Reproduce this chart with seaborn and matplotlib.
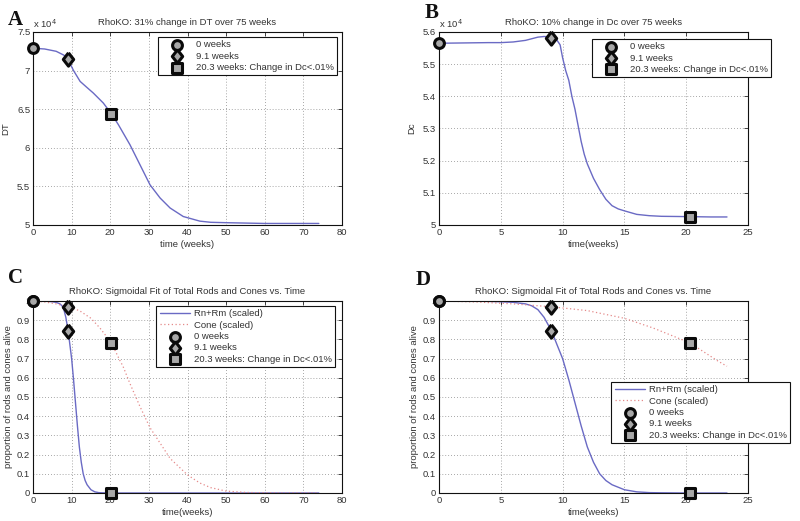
import numpy as np
import pandas as pd
import matplotlib
matplotlib.use("Agg")
import matplotlib.pyplot as plt
import seaborn as sns

# ---------------- data ----------------
# Panel A: DT (x 10^4) vs time (weeks)
t_dt = [0, 3, 6, 8, 9.1, 10.5, 12.2, 14, 15.6, 18.2, 20.3, 22.1, 25.1, 27.7, 30.3,
        32.9, 35.5, 38.9, 43.2, 46, 50, 55, 60, 65, 70, 74]
dt_e4 = [7.29, 7.28, 7.25, 7.2, 7.14, 7.0, 6.86, 6.78, 6.71, 6.58, 6.44, 6.30, 6.04,
         5.78, 5.52, 5.35, 5.22, 5.11, 5.05, 5.035, 5.03, 5.025, 5.02, 5.02, 5.02, 5.02]
dt_marker_t = [0, 9.1, 20.3]
dt_marker_v = [7.29, 7.145, 6.44]

# Panel B: Dc (x 10^4) vs time (weeks)
t_dc = [0, 2, 4, 5, 6, 7, 7.5, 8, 8.5, 9.1, 9.5, 9.8, 10, 10.25, 10.5, 10.75, 11,
        11.25, 11.5, 11.75, 12, 12.5, 13, 13.5, 14, 14.5, 15, 16, 17, 18, 20.3, 22, 23.3]
dc_e4 = [5.565, 5.566, 5.567, 5.567, 5.569, 5.574, 5.579, 5.584, 5.586, 5.585, 5.577,
         5.56, 5.52, 5.48, 5.45, 5.40, 5.36, 5.31, 5.26, 5.22, 5.19, 5.145, 5.11, 5.08,
         5.06, 5.05, 5.044, 5.033, 5.029, 5.027, 5.026, 5.025, 5.025]
dc_marker_t = [0, 9.1, 20.3]
dc_marker_v = [5.565, 5.582, 5.026]

# Panels C/D: scaled rods and cones
t_rod = [0, 2, 4, 5, 6, 7, 7.5, 8, 8.5, 9.1, 9.5, 10, 10.5, 11, 11.5, 12, 12.5, 13,
         13.5, 14, 15, 16, 17, 18, 20, 23.3, 30, 40, 50, 60, 74]
rod = [1.0, 1.0, 0.998, 0.996, 0.993, 0.985, 0.975, 0.955, 0.915, 0.845, 0.78, 0.70,
       0.59, 0.47, 0.35, 0.24, 0.16, 0.10, 0.065, 0.043, 0.017, 0.006, 0.002, 0.001,
       0, 0, 0, 0, 0, 0, 0]
t_cone = [0, 3, 6, 9.1, 12, 15, 17.3, 20.3, 22.5, 23.3, 25.1, 27.7, 30.3, 32.9, 35.5,
          40, 43.2, 46, 50, 55, 60, 65, 70, 74]
cone = [1.0, 0.995, 0.985, 0.97, 0.95, 0.91, 0.86, 0.782, 0.69, 0.66, 0.57, 0.45, 0.34,
        0.26, 0.18, 0.094, 0.052, 0.028, 0.01, 0.003, 0.001, 0, 0, 0]
prop_marker_t = {"0 weeks": [0, 0], "9.1 weeks": [9.1, 9.1], "20.3 weeks": [20.3, 20.3]}
prop_marker_v = {"0 weeks": [1.0, 1.0], "9.1 weeks": [0.97, 0.845], "20.3 weeks": [0.782, 0.0]}

marker_labels = ["0 weeks", "9.1 weeks", "20.3 weeks: Change in Dc<.01%"]
titles = ["RhoKO: 31% change in DT over 75 weeks",
          "RhoKO: 10% change in Dc over 75 weeks",
          "RhoKO: Sigmoidal Fit of Total Rods and Cones vs. Time",
          "RhoKO: Sigmoidal Fit of Total Rods and Cones vs. Time"]

# ---------------- style ----------------
sns.set_style("white")
plt.rcParams["font.family"] = ["Liberation Sans", "DejaVu Sans"]
FS = 6.8
TXT = "#333333"
BLUE = "#6a6ac4"
RED = "#e58a8a"

fig = plt.figure(figsize=(8.0, 5.21), dpi=100)
W, H = 800, 521


def make_ax(left, top, right, bottom):
    return fig.add_axes([left / W, 1 - bottom / H, (right - left) / W, (bottom - top) / H])


axA = make_ax(33, 32, 342, 225)
axB = make_ax(439, 32, 748, 225)
axC = make_ax(33, 301, 342, 493)
axD = make_ax(439, 301, 748, 493)

DIAMOND = [(0, 1.0), (0.78, 0), (0, -1.0), (-0.78, 0), (0, 1.0)]
marker_styles = [("o", 50), (DIAMOND, 92), ("s", 46)]


def style_ax(ax, xlim, ylim, xticks, yticks, yfmt):
    ax.set_xlim(*xlim)
    ax.set_ylim(*ylim)
    ax.set_xticks(xticks)
    ax.set_yticks(yticks)
    ax.set_yticklabels([yfmt(v) for v in yticks])
    ax.set_xticklabels([f"{v:g}" for v in xticks])
    ax.tick_params(direction="in", top=True, right=True, length=3, width=0.6,
                   labelsize=FS, labelcolor=TXT, pad=2)
    ax.grid(True, linestyle=(0, (1, 2.5)), color="#8a8a8a", linewidth=0.6)
    for s in ax.spines.values():
        s.set_color("#111111")
        s.set_linewidth(0.8)
        s.set_visible(True)


def add_markers(ax, xs_list, ys_list):
    for (m, s), xs, ys, lab in zip(marker_styles, xs_list, ys_list, marker_labels):
        sns.scatterplot(x=xs, y=ys, ax=ax, marker=m, s=s, color="#a8a8a8",
                        edgecolor="#0a0a0a", linewidth=2.2, label=lab,
                        zorder=10, clip_on=False)


def legend(ax, anchor):
    leg = ax.legend(loc="upper right", bbox_to_anchor=anchor, fontsize=FS,
                    frameon=True, fancybox=False, framealpha=1, edgecolor="#111111",
                    handlelength=3.2, handletextpad=0.4, borderpad=0.35,
                    labelspacing=0.25, borderaxespad=0)
    leg.get_frame().set_linewidth(0.8)
    for t in leg.get_texts():
        t.set_color(TXT)
    return leg


# ---- Panel A ----
dfA = pd.DataFrame({"t": t_dt, "v": dt_e4})
sns.lineplot(data=dfA, x="t", y="v", ax=axA, color=BLUE, linewidth=1.0,
             estimator=None, legend=False)
add_markers(axA, [[t] for t in dt_marker_t], [[v] for v in dt_marker_v])
style_ax(axA, (0, 80), (5, 7.5), range(0, 81, 10), [5, 5.5, 6, 6.5, 7, 7.5],
         lambda v: f"{v:g}")
legend(axA, (0.984, 0.974))
axA.set_xlabel("time (weeks)", fontsize=FS, color=TXT, labelpad=2)
axA.set_ylabel("DT", fontsize=FS, color=TXT, labelpad=5)

# ---- Panel B ----
dfB = pd.DataFrame({"t": t_dc, "v": dc_e4})
sns.lineplot(data=dfB, x="t", y="v", ax=axB, color=BLUE, linewidth=1.0,
             estimator=None, legend=False)
add_markers(axB, [[t] for t in dc_marker_t], [[v] for v in dc_marker_v])
style_ax(axB, (0, 25), (5, 5.6), range(0, 26, 5), [5, 5.1, 5.2, 5.3, 5.4, 5.5, 5.6],
         lambda v: f"{v:g}")
legend(axB, (1.074, 0.964))
axB.set_xlabel("time(weeks)", fontsize=FS, color=TXT, labelpad=2)
axB.set_ylabel("Dc", fontsize=FS, color=TXT, labelpad=5)

for ax in (axA, axB):
    ax.text(0.0, 1.012, r"x 10$^4$", transform=ax.transAxes, ha="left", va="bottom",
            fontsize=FS, color=TXT)

# ---- Panels C and D ----
mk_keys = ["0 weeks", "9.1 weeks", "20.3 weeks"]
for ax, tmax, xt, anchor in ((axC, 80, range(0, 81, 10), (0.977, 0.974)),
                             (axD, 25, range(0, 26, 5), (1.136, 0.578))):
    lim = 74 if tmax == 80 else 23.3
    dfr = pd.DataFrame({"t": t_rod, "v": rod})
    dfr = dfr[dfr.t <= lim]
    dfc = pd.DataFrame({"t": t_cone, "v": cone})
    dfc = dfc[dfc.t <= lim]
    sns.lineplot(data=dfr, x="t", y="v", ax=ax, color=BLUE, linewidth=1.0,
                 estimator=None, label="Rn+Rm (scaled)")
    sns.lineplot(data=dfc, x="t", y="v", ax=ax, color=RED, linewidth=0.9,
                 linestyle=(0, (1, 2)), estimator=None, label="Cone (scaled)")
    add_markers(ax, [prop_marker_t[k] for k in mk_keys], [prop_marker_v[k] for k in mk_keys])
    style_ax(ax, (0, tmax), (0, 1), xt, [i / 10 for i in range(11)],
             lambda v: f"{v:g}")
    legend(ax, anchor)
    ax.set_xlabel("time(weeks)", fontsize=FS, color=TXT, labelpad=2)
    ax.set_ylabel("proportion of rods and cones alive", fontsize=FS, color=TXT, labelpad=3)

for ax, title in zip((axA, axB, axC, axD), titles):
    ax.set_title(title, fontsize=FS, color=TXT, pad=5)

# panel letters
for x, y, lab in ((8, 25, "A"), (425, 18, "B"), (8, 283, "C"), (416, 285, "D")):
    fig.text(x / W, 1 - y / H, lab, fontsize=15, fontweight="bold",
             family=["Liberation Serif", "DejaVu Serif"], va="baseline", ha="left",
             color="#111111")

fig.savefig("out.png", dpi=100)
